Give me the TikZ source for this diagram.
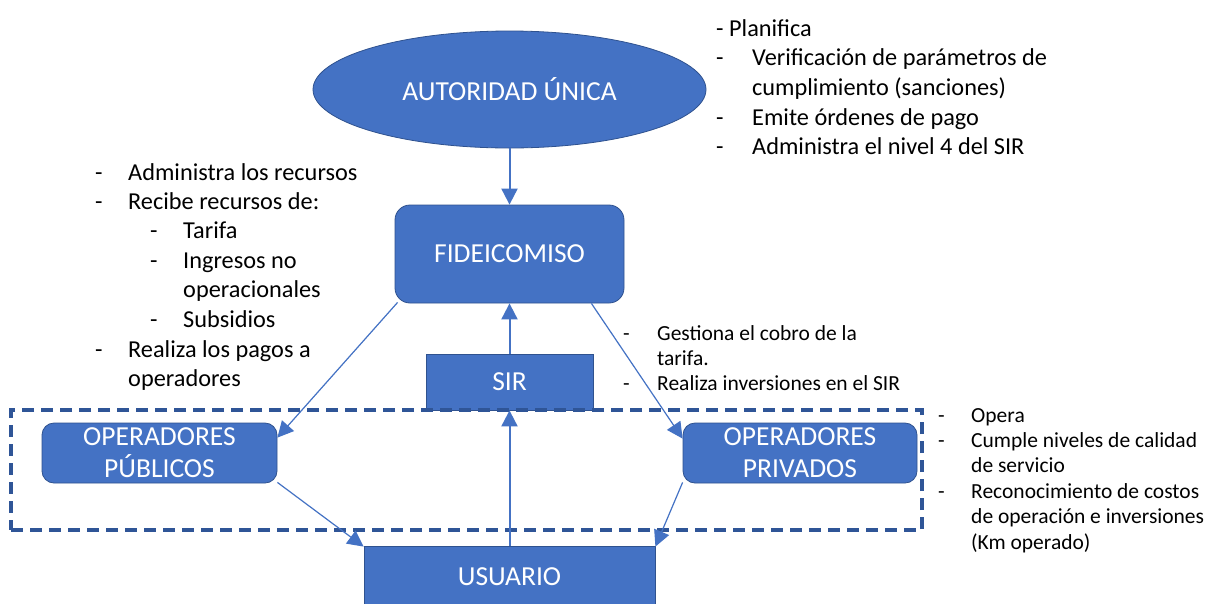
\documentclass[tikz,border=0pt]{standalone}
\usepackage{fontspec}
\setmainfont{Carlito}
\usetikzlibrary{shapes.geometric,arrows.meta}
\definecolor{blu}{HTML}{4472C4}
\definecolor{bord}{HTML}{2F528F}
\definecolor{dkblue}{HTML}{2F5597}
\begin{document}
\begin{tikzpicture}[x=1pt,y=-1pt,
  box/.style={draw=bord, fill=blu, line width=0.8pt, text=white,
    font=\fontsize{27.5}{32}\selectfont, inner sep=0pt, align=center},
  rbox/.style={box, rounded corners=12pt},
  conn/.style={draw=blu, line width=1.2pt, -{Triangle[length=16pt,width=16pt]}},
  vconn/.style={conn, line width=2pt},
  la/.style={anchor=base west, inner sep=0pt, text=black, font=\fontsize{24.3}{28}\selectfont},
  lb/.style={anchor=base west, inner sep=0pt, text=black, font=\fontsize{21.5}{25}\selectfont},
  grpframe/.style={draw=dkblue, line width=3.2pt, dash pattern=on 12pt off 7pt, inner sep=0pt}
]
\useasboundingbox (0,0) rectangle (1206,603);
\fill[white] (0,0) rectangle (1206,603);

% main nodes
\node[box, ellipse, minimum width=393pt, minimum height=117pt] (au) at (509.5,89.5) {AUTORIDAD ÚNICA};
\node[rbox, rounded corners=15pt, minimum width=229pt, minimum height=98pt] (fi) at (509.5,254) {FIDEICOMISO};
\node[box, minimum width=167pt, minimum height=56pt] (sir) at (509.5,382) {SIR};
\node[box, minimum width=291pt, minimum height=62pt] (us) at (509.5,577) {USUARIO};
\node[rbox, minimum width=235pt, minimum height=60pt] (opu) at (159.5,453) {OPERADORES\\PÚBLICOS};
\node[rbox, minimum width=234pt, minimum height=60pt] (opr) at (800,453) {OPERADORES\\PRIVADOS};

% dashed group frame
\node[grpframe, minimum width=911pt, minimum height=120pt] (grp) at (466.5,470) {};

% connectors
\draw[vconn] (au.south) -- (fi.north);
\draw[vconn] (sir.north) -- (fi.south);
\draw[vconn] (us.north) -- (sir.south);
\draw[conn] ([xshift=3pt,yshift=1pt]fi.south west) -- ([yshift=-15pt]opu.north east);
\draw[conn] ([xshift=-33pt]fi.south east) -- ([yshift=-16pt]opr.north west);
\draw[conn] ([yshift=1pt]opu.south east) -- ([yshift=-1pt]us.north west);
\draw[conn] ([yshift=1pt]opr.south west) -- ([yshift=-1pt]us.north east);

% top-right list
\node[la] (a1) at (716,36) {- Planifica};
\node[la] (a2d) at (716,65) {-};
\node[la] (a2) at (752,65) {Verificación de parámetros de};
\node[la] (a3) at (752,95) {cumplimiento (sanciones)};
\node[la] (a4d) at (716,125) {-};
\node[la] (a4) at (752,125) {Emite órdenes de pago};
\node[la] (a5d) at (716,154) {-};
\node[la] (a5) at (752,154) {Administra el nivel 4 del SIR};

% left list
\node[la] (b1d) at (95,180) {-};
\node[la] (b1) at (128,180) {Administra los recursos};
\node[la] (b2d) at (95,209) {-};
\node[la] (b2) at (128,209) {Recibe recursos de:};
\node[la] (b3d) at (150,238) {-};
\node[la] (b3) at (183,238) {Tarifa};
\node[la] (b4d) at (150,268) {-};
\node[la] (b4) at (183,268) {Ingresos no};
\node[la] (b5) at (183,297) {operacionales};
\node[la] (b6d) at (150,327) {-};
\node[la] (b6) at (183,327) {Subsidios};
\node[la] (b7d) at (95,357) {-};
\node[la] (b7) at (128,357) {Realiza los pagos a};
\node[la] (b8) at (128,386) {operadores};

% middle-right list
\node[lb] (c1d) at (623,340) {-};
\node[lb] (c1) at (657,340) {Gestiona el cobro de la};
\node[lb] (c2) at (657,365) {tarifa.};
\node[lb] (c3d) at (623,390) {-};
\node[lb] (c3) at (657,390) {Realiza inversiones en el SIR};

% bottom-right list
\node[lb] (d1d) at (938,422) {-};
\node[lb] (d1) at (971,422) {Opera};
\node[lb] (d2d) at (938,447) {-};
\node[lb] (d2) at (971,447) {Cumple niveles de calidad};
\node[lb] (d3) at (971,472) {de servicio};
\node[lb] (d4d) at (938,498) {-};
\node[lb] (d4) at (971,498) {Reconocimiento de costos};
\node[lb] (d5) at (971,523) {de operación e inversiones};
\node[lb] (d6) at (971,549) {(Km operado)};
\end{tikzpicture}
\end{document}
